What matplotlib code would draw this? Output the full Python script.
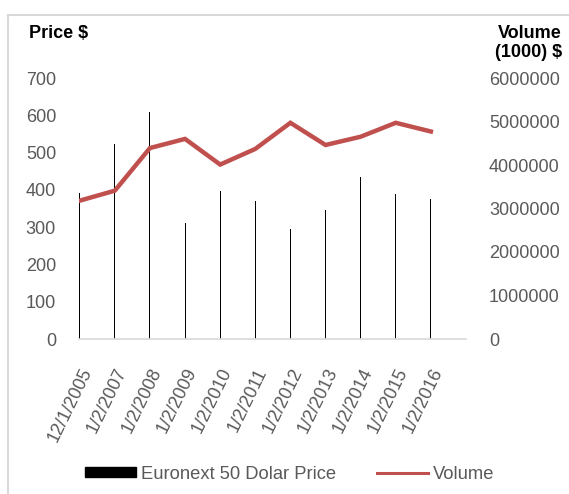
import matplotlib
matplotlib.use("Agg")
import matplotlib.pyplot as plt
from matplotlib.patches import Patch, Rectangle
from matplotlib.lines import Line2D
from matplotlib.ticker import StrMethodFormatter

dates = ["12/1/2005", "1/2/2007", "1/2/2008", "1/2/2009", "1/2/2010", "1/2/2011",
         "1/2/2012", "1/2/2013", "1/2/2014", "1/2/2015", "1/2/2016"]
price = [391, 524, 608, 312, 396, 369, 294, 346, 435, 389, 376]
volume = [3180000, 3410000, 4390000, 4600000, 4010000, 4370000,
          4970000, 4460000, 4650000, 4970000, 4770000]

plt.rcParams['font.family'] = ['Liberation Sans', 'DejaVu Sans']
grey = '#595959'

fig = plt.figure(figsize=(5.69, 4.94), dpi=100)
ax = fig.add_axes([79/569, 1-339/494, (466-79)/569, (339-78)/494])
ax2 = ax.twinx()

x = list(range(len(dates)))
ax.bar(x, price, width=0.03, color='black', label='Euronext 50 Dolar Price')
ax2.plot(x, volume, color='#C0504D', lw=3.2, solid_joinstyle='miter', label='Volume')

ax.set_xlim(-0.02, 11.0)
ax.set_ylim(0, 700)
ax2.set_ylim(0, 6000000)
ax.set_yticks(range(0, 701, 100))
ax2.set_yticks(range(0, 6000001, 1000000))
ax2.yaxis.set_major_formatter(StrMethodFormatter('{x:.0f}'))
ax.set_xticks(x)
ax.set_xticklabels(dates, rotation=64, ha='right', va='top', rotation_mode='anchor')

for a in (ax, ax2):
    for s in a.spines.values():
        s.set_visible(False)
    a.tick_params(length=0, labelsize=13, labelcolor=grey)
ax.spines['bottom'].set_visible(True)
ax.spines['bottom'].set_color('#D9D9D9')
ax.spines['bottom'].set_linewidth(1.2)
ax.tick_params(axis='y', pad=16.5)
ax.tick_params(axis='x', pad=19)
ax2.tick_params(axis='y', pad=16.5)

fig.text(29/569, 1-33/494, "Price $", fontsize=13, fontweight='bold', ha='left', va='center')
fig.text(562/569, 1-43/494, "Volume\n(1000) $", fontsize=13, fontweight='bold',
         ha='right', va='center', linespacing=1.2)

handles = [Patch(color='black'), Line2D([], [], color='#C0504D', lw=2.2)]
fig.legend(handles, ['Euronext 50 Dolar Price', 'Volume'], loc='center left',
           bbox_to_anchor=(85/569, 1-474/494), ncol=2, frameon=False, fontsize=13.2,
           labelcolor=grey, handlelength=2.8, handleheight=0.5, handletextpad=0.27,
           columnspacing=2.2, borderpad=0, borderaxespad=0)

fig.patches.append(Rectangle((8/569, -0.1), 1.2, 1.1 - 15/494, transform=fig.transFigure,
                             fill=False, edgecolor='#D9D9D9', lw=1.5, figure=fig))

plt.savefig("out.png", dpi=100)
